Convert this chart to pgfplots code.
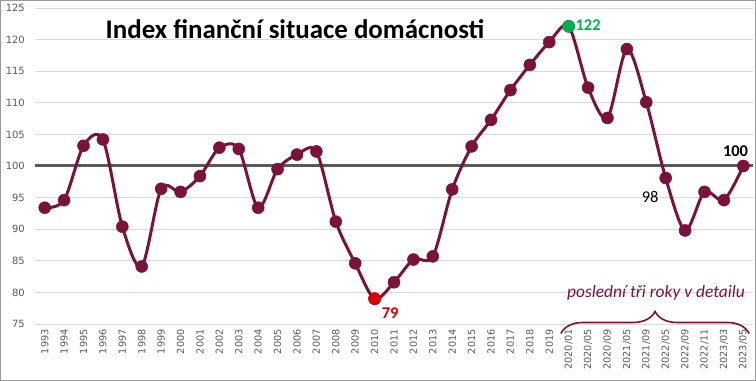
\documentclass[border=0pt]{standalone}
\usepackage{pgfplots}
\pgfplotsset{compat=1.18}
\usepackage{fontspec}
\setmainfont{Carlito}
\newfontfamily\tickfont{DejaVu Sans}
\usetikzlibrary{decorations.pathreplacing}
\definecolor{maroon}{HTML}{7A1338}
\definecolor{tickgray}{HTML}{595959}
\definecolor{gridgray}{HTML}{D9D9D9}
\definecolor{redpt}{HTML}{D80000}
\definecolor{greenpt}{HTML}{00B050}
\begin{document}
\begin{tikzpicture}
\useasboundingbox (-35bp,-57bp) rectangle (721bp,324bp);
\draw[color=gray!80, line width=1bp] (-34.5bp,-56.5bp) rectangle (720.5bp,323.5bp);
\begin{axis}[
  at={(0,0)}, anchor=south west,
  scale only axis, width=718bp, height=316bp,
  xmin=-0.5, xmax=36.5, ymin=75, ymax=125,
  ytick={75,80,...,125},
  xtick={0,...,36},
  xticklabels={1993,1994,1995,1996,1997,1998,1999,2000,2001,2002,2003,2004,2005,2006,2007,2008,2009,2010,2011,2012,2013,2014,2015,2016,2017,2018,2019,2020/01,2020/05,2020/09,2021/05,2021/09,2022/05,2022/09,2022/11,2023/03,2023/05},
  xticklabel style={rotate=90, anchor=east, font=\tickfont\fontsize{9.8}{11}\selectfont, text=tickgray, inner sep=0bp, xshift=-5bp},
  yticklabel style={font=\tickfont\fontsize{10}{11}\selectfont, text=tickgray, inner sep=1bp, xshift=-9bp},
  /pgf/number format/assume math mode=true,
  ymajorgrids, grid style={gridgray, line width=0.8bp},
  axis line style={draw=none},
  major tick length=0pt,
  clip=false,
]
\draw[color=tickgray, line width=3bp] (axis cs:-0.5,100) -- (axis cs:36.5,100);
\addplot[color=maroon, line width=3bp, smooth, tension=0.5, mark=*, mark size=6bp, mark options={fill=maroon, draw=maroon, line width=0.5bp}] coordinates {
(0,93.4) (1,94.6) (2,103.2) (3,104.2) (4,90.4) (5,84.1) (6,96.4) (7,95.9) (8,98.4) (9,102.9)
(10,102.7) (11,93.4) (12,99.5) (13,101.8) (14,102.3) (15,91.2) (16,84.6) (17,79.0) (18,81.6) (19,85.2)
(20,85.7) (21,96.3) (22,103.1) (23,107.3) (24,112.0) (25,116.0) (26,119.6) (27,122.1) (28,112.4) (29,107.6)
(30,118.5) (31,110.1) (32,98.1) (33,89.8) (34,95.9) (35,94.6) (36,100.0)
};
\addplot[only marks, mark=*, mark size=6bp, color=redpt, mark options={fill=redpt, draw=redpt, line width=0.5bp}] coordinates {(17,79.0)};
\addplot[only marks, mark=*, mark size=6bp, color=greenpt, mark options={fill=greenpt, draw=greenpt, line width=0.5bp}] coordinates {(27,122.1)};
\node[anchor=west, text=greenpt, font=\fontsize{16.5}{17}\selectfont\bfseries, inner sep=0pt] at (axis cs:27.35,122.3) {122};
\node[text=redpt, font=\fontsize{16.5}{17}\selectfont\bfseries, inner sep=0pt] at (axis cs:17.8,76.7) {79};
\node[text=black, font=\fontsize{16.5}{17}\selectfont\bfseries, inner sep=0pt] at (axis cs:35.6,102.4) {100};
\node[text=black, font=\fontsize{16.5}{17}\selectfont, inner sep=0pt] at (axis cs:31.2,95.1) {98};
\node[font=\fontsize{27}{29}\selectfont\bfseries, inner sep=0pt] at (axis cs:12.9,121.7) {Index finanční situace domácnosti};
\node[text=maroon, font=\fontsize{17.5}{19}\selectfont\itshape, inner sep=0pt] at (axis cs:31.5,79.9) {poslední tři roky v detailu};
\draw[decorate, decoration={brace, amplitude=22bp, aspect=0.5}, line width=1.6bp, color=maroon] (axis cs:26.6,73.5) -- (axis cs:36.3,73.5);
\end{axis}
\end{tikzpicture}
\end{document}
